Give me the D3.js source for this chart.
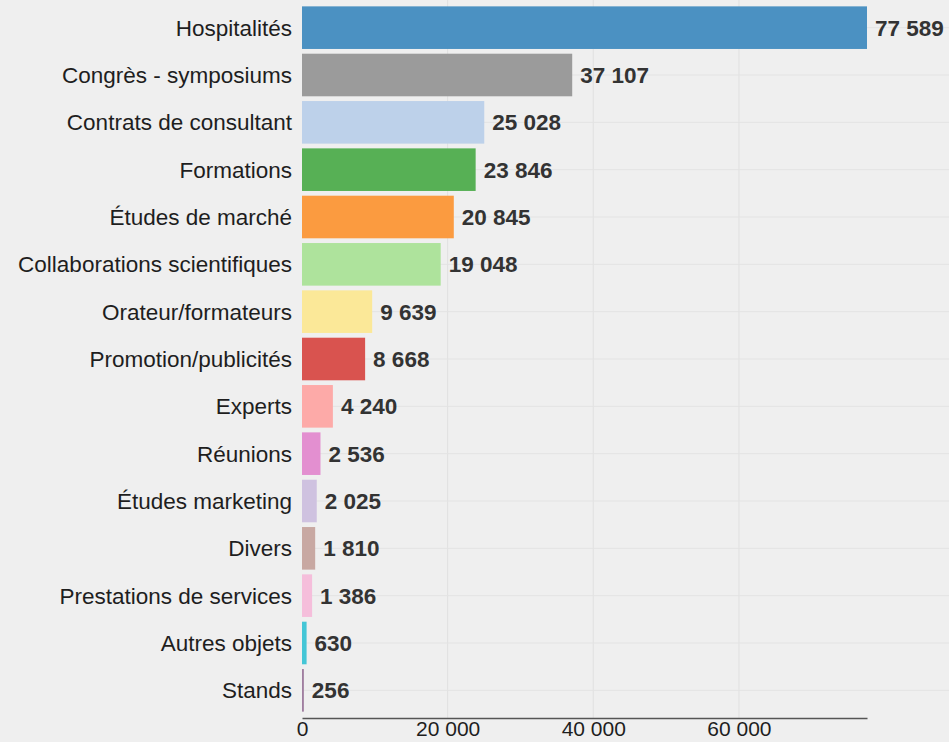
<!DOCTYPE html>
<html>
<head>
<meta charset="utf-8">
<script src="https://cdn.jsdelivr.net/npm/d3@7"></script>
<style>
  html, body { margin: 0; padding: 0; background: #efefef; }
  svg { display: block; font-family: "Liberation Sans", Arial, Helvetica, sans-serif; }
</style>
</head>
<body>
<svg id="chart" width="949" height="742"></svg>
<script>
const categories = [
  "Hospitalités", "Congrès - symposiums", "Contrats de consultant", "Formations",
  "Études de marché", "Collaborations scientifiques", "Orateur/formateurs",
  "Promotion/publicités", "Experts", "Réunions", "Études marketing", "Divers",
  "Prestations de services", "Autres objets", "Stands"
];
const values = [77589, 37107, 25028, 23846, 20845, 19048, 9639, 8668, 4240, 2536, 2025, 1810, 1386, 630, 256];
const colors = [
  "#4b91c2", "#9b9b9b", "#bdd1ea", "#57b055", "#fb9b40", "#aee39c", "#fbe898",
  "#d9534f", "#fdaaa8", "#e38fd0", "#cfc2e0", "#c8a8a2", "#f5bedb", "#44c6d6", "#a07ea0"
];
const xTicks = [0, 20000, 40000, 60000];

const W = 949, H = 742;
const mLeft = 302, mRight = 867, mTop = 4, mBottom = 714, axisY = 718;

const fr = d3.formatLocale({decimal: ",", thousands: " ", grouping: [3], currency: ["", " €"]});
const fmt = fr.format(",d");

const data = categories.map((c, i) => ({cat: c, val: values[i], color: colors[i]}));

const svg = d3.select("#chart");
svg.append("rect").attr("width", W).attr("height", H).attr("fill", "#efefef");

const x = d3.scaleLinear().domain([0, d3.max(values)]).range([mLeft, mRight]);
const y = d3.scaleBand().domain(categories).range([mTop, mBottom]).paddingInner(0.1).paddingOuter(0.05);

// gridlines
const grid = svg.append("g");
grid.selectAll("line.v").data(xTicks.slice(1)).enter().append("line")
  .attr("x1", d => x(d)).attr("x2", d => x(d))
  .attr("y1", 0).attr("y2", axisY)
  .attr("stroke", "#e0e0e0").attr("stroke-width", 1);
grid.selectAll("line.h").data(categories).enter().append("line")
  .attr("x1", mLeft).attr("x2", W)
  .attr("y1", d => y(d) + y.bandwidth() / 2).attr("y2", d => y(d) + y.bandwidth() / 2)
  .attr("stroke", "#e3e3e3").attr("stroke-width", 1);

// bars
svg.append("g").selectAll("rect").data(data).enter().append("rect")
  .attr("x", x(0))
  .attr("y", d => y(d.cat))
  .attr("width", d => x(d.val) - x(0))
  .attr("height", y.bandwidth())
  .attr("fill", d => d.color);

// category labels
svg.append("g").selectAll("text").data(data).enter().append("text")
  .attr("x", mLeft - 10)
  .attr("y", d => y(d.cat) + y.bandwidth() / 2)
  .attr("dy", "0.36em")
  .attr("text-anchor", "end")
  .attr("font-size", 22.5)
  .attr("fill", "#1e1e1e")
  .text(d => d.cat);

// value labels
svg.append("g").selectAll("text").data(data).enter().append("text")
  .attr("x", d => x(d.val) + 8)
  .attr("y", d => y(d.cat) + y.bandwidth() / 2)
  .attr("dy", "0.36em")
  .attr("font-size", 22.5)
  .attr("font-weight", "bold")
  .attr("fill", "#333")
  .text(d => fmt(d.val));

// x axis
const axis = svg.append("g").attr("transform", `translate(0,${axisY})`)
  .call(d3.axisBottom(x).tickValues(xTicks).tickFormat(fmt).tickSize(0).tickSizeOuter(0).tickPadding(3));
axis.select(".domain").attr("stroke", "#555").attr("stroke-width", 1.5);
axis.selectAll("text").attr("font-size", 21).attr("fill", "#1e1e1e")
  .attr("font-family", "'Liberation Sans', Arial, Helvetica, sans-serif");
</script>
</body>
</html>
